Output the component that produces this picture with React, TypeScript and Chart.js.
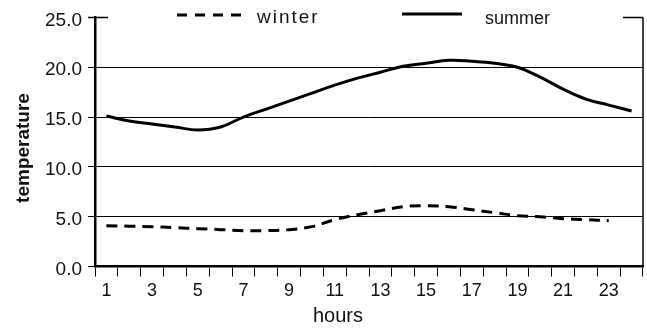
import React, { useEffect, useRef } from "react";
import { Chart, registerables } from "chart.js";

Chart.register(...registerables);

const hours = Array.from({ length: 24 }, (_, i) => String(i + 1));
const summer = [15.1, 14.6, 14.3, 14.0, 13.7, 14.0, 15.0, 15.8, 16.6, 17.4, 18.2, 18.9, 19.5, 20.1, 20.4, 20.7, 20.6, 20.4, 20.0, 19.0, 17.8, 16.8, 16.2, 15.6];
const winter = [4.1, 4.05, 4.0, 3.9, 3.8, 3.7, 3.6, 3.6, 3.7, 4.0, 4.7, 5.2, 5.6, 6.0, 6.1, 6.0, 5.7, 5.4, 5.1, 5.0, 4.8, 4.7, 4.6, null];
const yTicks = [0, 5, 10, 15, 20, 25];

const FONT = "'Liberation Sans', Arial, Helvetica, sans-serif";

const framePlugin = {
  id: "frame",
  afterDraw(chart: any) {
    const ctx = chart.ctx;
    const a = chart.chartArea;
    const y = chart.scales.y;
    const top = y.getPixelForValue(25);
    ctx.save();
    ctx.strokeStyle = "#000";
    ctx.lineWidth = 1.5;
    ctx.setLineDash([]);
    // right border
    ctx.beginPath();
    ctx.moveTo(a.right, top);
    ctx.lineTo(a.right, a.bottom);
    ctx.stroke();
    // top segments (legend box covers the rest)
    ctx.beginPath();
    ctx.moveTo(88, top);
    ctx.lineTo(108, top);
    ctx.moveTo(623, top);
    ctx.lineTo(a.right, top);
    ctx.stroke();

    // legend
    ctx.lineWidth = 3;
    ctx.setLineDash([10, 8]);
    ctx.beginPath();
    ctx.moveTo(177, 15);
    ctx.lineTo(245, 15);
    ctx.stroke();
    ctx.setLineDash([]);
    ctx.beginPath();
    ctx.moveTo(402, 14);
    ctx.lineTo(462, 14);
    ctx.stroke();

    ctx.fillStyle = "#111";
    ctx.textAlign = "left";
    ctx.textBaseline = "alphabetic";
    ctx.font = `19px ${FONT}`;
    try { (ctx as any).letterSpacing = "2px"; } catch (e) {}
    ctx.fillText("winter", 257, 23);
    try { (ctx as any).letterSpacing = "0px"; } catch (e) {}
    ctx.font = `18px ${FONT}`;
    ctx.fillText("summer", 485, 24);

    // axis titles
    ctx.font = `20px ${FONT}`;
    ctx.textAlign = "center";
    ctx.fillText("hours", 338, 322);

    ctx.save();
    ctx.translate(29, 148);
    ctx.rotate(-Math.PI / 2);
    ctx.font = `bold 19px ${FONT}`;
    ctx.textAlign = "center";
    ctx.textBaseline = "alphabetic";
    ctx.fillText("temperature", 0, 0);
    ctx.restore();

    ctx.restore();
  },
};

export default function App() {
  const ref = useRef<HTMLCanvasElement | null>(null);

  useEffect(() => {
    document.body.style.margin = "0";
    const canvas = ref.current;
    if (!canvas) return;
    const chart = new Chart(canvas, {
      type: "line",
      data: {
        labels: hours,
        datasets: [
          {
            label: "winter",
            data: winter,
            borderColor: "#000",
            borderWidth: 3,
            borderDash: [11, 7],
            pointRadius: 0,
            tension: 0.4,
            fill: false,
          },
          {
            label: "summer",
            data: summer,
            borderColor: "#000",
            borderWidth: 3,
            pointRadius: 0,
            tension: 0.4,
            fill: false,
          },
        ],
      },
      options: {
        responsive: false,
        animation: false,
        devicePixelRatio: 1,
        layout: { padding: { top: 17, right: 4, left: 0, bottom: 0 } },
        plugins: {
          legend: { display: false },
          tooltip: { enabled: false },
          title: { display: false },
        },
        scales: {
          x: {
            type: "category",
            offset: true,
            afterFit: (s: any) => {
              s.height = 62.5;
            },
            grid: {
              offset: true,
              drawOnChartArea: false,
              drawTicks: true,
              tickLength: 10,
              color: "#000",
              lineWidth: 1,
            },
            border: { display: true, color: "#000", width: 2.5 },
            ticks: {
              autoSkip: false,
              maxRotation: 0,
              minRotation: 0,
              padding: 4,
              color: "#111",
              font: { family: FONT, size: 18 },
              callback: (_v: any, i: number) => (i % 2 === 0 ? hours[i] : ""),
            },
          },
          y: {
            min: 0,
            max: 25,
            afterFit: (s: any) => {
              s.width = 95;
            },
            afterBuildTicks: (s: any) => {
              s.ticks = yTicks.map((v) => ({ value: v }));
            },
            grid: {
              drawTicks: true,
              tickLength: 7,
              lineWidth: 1,
              color: (c: any) => (c.tick && c.tick.value === 25 ? "rgba(0,0,0,0)" : "#000"),
            },
            border: { display: true, color: "#000", width: 2.5 },
            ticks: {
              padding: 6,
              labelOffset: 3,
              color: "#111",
              font: { family: FONT, size: 19 },
              callback: (v: any) => Number(v).toFixed(1),
            },
          },
        },
      },
      plugins: [framePlugin],
    } as any);
    return () => chart.destroy();
  }, []);

  return (
    <div style={{ position: "fixed", left: 0, top: 0, width: 647, height: 329, background: "#fff" }}>
      <canvas ref={ref} width={647} height={329} style={{ display: "block", width: 647, height: 329 }} />
    </div>
  );
}
